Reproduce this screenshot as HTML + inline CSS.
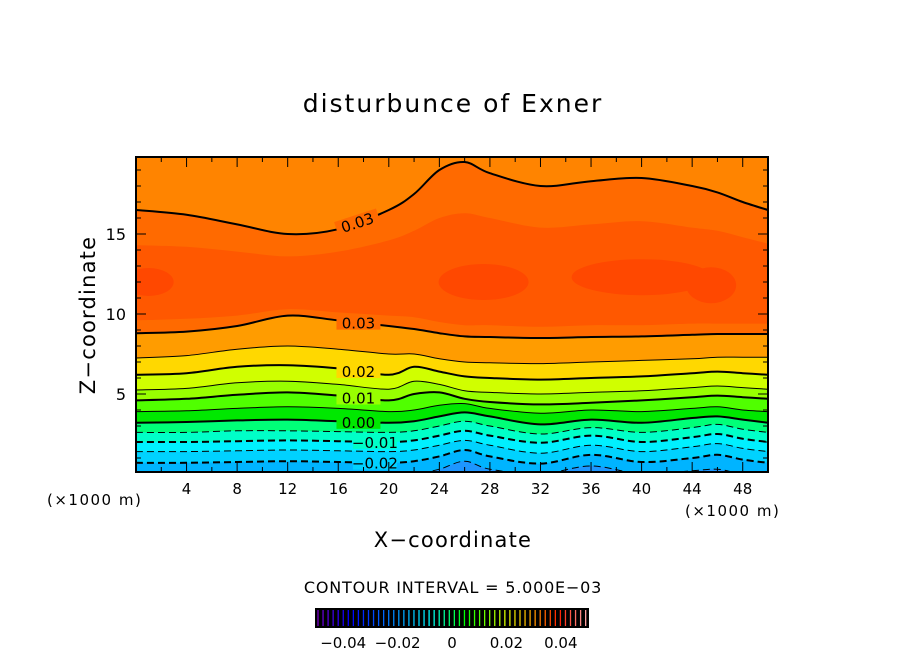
<!DOCTYPE html>
<html><head><meta charset="utf-8"><style>
body{margin:0;background:#fff;}
svg{display:block;font-family:"DejaVu Sans","Liberation Sans",sans-serif;}
</style></head><body>
<svg id="chart" width="904" height="654" viewBox="0 0 904 654">
<text x="453" y="112" text-anchor="middle" font-size="25" letter-spacing="2">disturbunce of Exner</text>
<defs><clipPath id="pc"><rect x="136" y="157" width="632" height="315"/></clipPath></defs>
<g id="plot" clip-path="url(#pc)"></g>
<g id="lines" clip-path="url(#pc)"></g>
<g id="labels"></g>
<rect x="136" y="157" width="632" height="315" fill="none" stroke="#000" stroke-width="2"/>
<g id="axes"></g>
<text x="47" y="505" font-size="15" letter-spacing="1.5">(×1000 m)</text>
<text x="685" y="516" font-size="15" letter-spacing="1.5">(×1000 m)</text>
<text x="453" y="547" text-anchor="middle" font-size="21" letter-spacing="1.2">X−coordinate</text>
<text transform="translate(95,315) rotate(-90)" text-anchor="middle" font-size="21" letter-spacing="1.2">Z−coordinate</text>
<text x="453" y="593" text-anchor="middle" font-size="16" letter-spacing="0.8">CONTOUR INTERVAL = 5.000E−03</text>
<rect x="315" y="608" width="274" height="20" fill="#000"/>
<g id="cbar"></g>
</svg>
<script>
const xs=[0,4,8,12,16,20,22,24,26,28,32,36,40,44,46,48,50];
const levels=[-0.025,-0.02,-0.015,-0.01,-0.005,0,0.005,0.01,0.015,0.02,0.025,0.03];
const profiles=[
[0,0,0,0,0,0,0,0.3,0.8,0.3,0,0.5,0,0.2,0.3,0,0],
[0.7,0.7,0.75,0.8,0.75,0.7,0.8,1.1,1.5,1.1,0.65,1.2,0.75,1.0,1.2,0.9,0.7],
[1.4,1.4,1.45,1.5,1.45,1.4,1.5,1.8,2.1,1.8,1.3,1.8,1.4,1.7,1.9,1.6,1.4],
[2.0,2.0,2.05,2.1,2.05,2.0,2.1,2.4,2.7,2.4,1.95,2.4,2.0,2.3,2.5,2.2,2.0],
[2.6,2.6,2.7,2.7,2.65,2.6,2.7,3.0,3.3,3.0,2.5,2.9,2.6,2.9,3.1,2.8,2.6],
[3.2,3.25,3.35,3.4,3.3,3.2,3.3,3.6,3.85,3.6,3.1,3.4,3.2,3.5,3.6,3.4,3.2],
[3.9,3.95,4.1,4.2,4.1,3.9,4.0,4.3,4.4,4.1,3.8,4.0,3.9,4.1,4.2,4.0,3.9],
[4.6,4.7,4.95,5.1,4.9,4.6,5.0,5.1,4.7,4.5,4.35,4.45,4.6,4.8,4.9,4.8,4.7],
[5.25,5.35,5.7,5.8,5.6,5.3,5.8,5.6,5.2,5.1,5.0,5.1,5.2,5.4,5.5,5.4,5.3],
[6.2,6.3,6.7,6.8,6.6,6.2,6.7,6.4,6.1,6.0,5.9,6.0,6.1,6.3,6.4,6.3,6.2],
[7.25,7.4,7.8,8.0,7.8,7.5,7.5,7.2,7.0,6.95,6.9,7.0,7.1,7.2,7.3,7.3,7.3],
[8.8,8.9,9.25,9.9,9.6,9.25,9.06,8.8,8.6,8.56,8.5,8.56,8.6,8.7,8.75,8.75,8.75]];
const upper030=[16.5,16.2,15.6,15.0,15.3,16.5,17.5,19.0,19.5,18.8,18.0,18.3,18.5,18.0,17.6,17.0,16.5];
const lower035=[9.6,9.7,9.9,10.3,10.1,9.9,9.8,9.5,9.3,9.3,9.2,9.3,9.3,9.4,9.4,9.4,9.4];
const upper035=[14.3,14.2,13.9,13.6,13.9,14.6,15.2,16.0,16.3,16.0,15.4,15.6,15.8,15.4,15.2,14.8,14.4];
const bandColors=["#1e96ff","#00b4ff","#00d2ff","#00f0ff","#00ffc8","#00ff78","#00e800","#50ff00","#98ff00","#d0ff00","#ffd800","#ff9c00"];
const xTicks=[4,8,12,16,20,24,28,32,36,40,44,48];
const zTicks=[5,10,15];
const cbarTicks=[-0.04,-0.02,0,0.02,0.04];
const cbarTickLabels=["−0.04","−0.02","0","0.02","0.04"];
const NS="http://www.w3.org/2000/svg";
const X=v=>136+v*632/50, Z=v=>474-v*16;
function pts(p){return xs.map((x,i)=>[X(x),Z(p[i])]);}
function spline(P){let d=`M${P[0][0]},${P[0][1]}`;for(let i=0;i<P.length-1;i++){const p0=P[Math.max(0,i-1)],p1=P[i],p2=P[i+1],p3=P[Math.min(P.length-1,i+2)];d+=`C${p1[0]+(p2[0]-p0[0])/6},${p1[1]+(p2[1]-p0[1])/6} ${p2[0]-(p3[0]-p1[0])/6},${p2[1]-(p3[1]-p1[1])/6} ${p2[0]},${p2[1]}`;}return d;}
function el(tag,attrs,parent){const e=document.createElementNS(NS,tag);for(const k in attrs)e.setAttribute(k,attrs[k]);parent.appendChild(e);return e;}
const plot=document.getElementById('plot'),lines=document.getElementById('lines'),labels=document.getElementById('labels');
let bg=el('rect',{x:136,y:157,width:632,height:317,fill:bandColors[0]},plot);


function fillAbove(p,color,name){const P=pts(p);const d=spline(P)+`L${X(50)},150L${X(0)},150Z`;const e=el('path',{d:d,fill:color},plot);

}
levels.forEach((lv,i)=>{fillAbove(profiles[i],bandColors[i+1]||"#ff6a00",'band-'+i);});
fillAbove(profiles[11],"#ff6a00",'band-030-035');
fillAbove(lower035,"#ff5800",'band-035-040');
fillAbove(upper035,"#ff6a00",'band-upper-030-035');
fillAbove(upper030,"#ff8400",'band-top');
[[1,12],[27.5,12],[40,12.3],[45.5,11.8]].forEach((c,i)=>{const e=el('ellipse',{cx:X(c[0]),cy:Z(c[1]),rx:i==2?70:i==1?45:25,ry:i==0?14:18,fill:"#ff4800"},plot);

});
function drawLine(p,lv,name){const thick=Math.abs(Math.round(lv*1000))%10===0;const a={d:spline(pts(p)),fill:'none',stroke:'#000','stroke-width':thick?2:1};if(lv<0)a['stroke-dasharray']='7,4';const e=el('path',a,lines);

}
levels.forEach((lv,i)=>drawLine(profiles[i],lv,'contour-'+lv));
drawLine(upper030,0.03,'contour-0.03-upper');
const lab=[[0.03,17.6,profiles[11]],[0.02,17.6,profiles[9]],[0.01,17.6,profiles[7]],[0,17.6,profiles[5]],[-0.01,18.9,profiles[3]],[-0.02,18.9,profiles[1]]];
function interp(p,x){for(let i=0;i<xs.length-1;i++)if(x<=xs[i+1]){const t=(x-xs[i])/(xs[i+1]-xs[i]);return p[i]+t*(p[i+1]-p[i]);}return p[p.length-1];}
function addLabel(txt,x,z,rot,bgc){const g=el('g',{transform:`translate(${X(x)},${Z(z)}) rotate(${rot})`},labels);
el('rect',{x:-22,y:-7,width:44,height:14,fill:bgc},g);
const t=el('text',{x:0,y:6,'text-anchor':'middle','font-size':15},g);t.textContent=txt;

}
const labBg=["#ff6a00","#ffd800","#98ff00","#00e800","#00ffc8","#00d2ff"];
lab.forEach((l,i)=>addLabel(l[0]<0?'−'+Math.abs(l[0]).toFixed(2):l[0].toFixed(2),l[1],interp(l[2],l[1]),0,labBg[i]));
addLabel('0.03',17.5,interp(upper030,17.5),-18,"#ff6a00");
const ax=document.getElementById('axes');
for(let v=2;v<50;v+=2){const major=v%4===0;const e=el('line',{x1:X(v),x2:X(v),y1:472,y2:major?462:467,stroke:'#000'},ax);


const e2=el('line',{x1:X(v),x2:X(v),y1:157,y2:major?167:162,stroke:'#000'},ax);

}
xTicks.forEach(v=>{const t=el('text',{x:X(v),y:494,'text-anchor':'middle','font-size':15},ax);t.textContent=v;

});
for(let v=1;v<20;v++){const major=v%5===0;const e=el('line',{x1:136,x2:major?146:141,y1:Z(v),y2:Z(v),stroke:'#000'},ax);


const e2=el('line',{x1:768,x2:major?758:763,y1:Z(v),y2:Z(v),stroke:'#000'},ax);

}
zTicks.forEach(v=>{const t=el('text',{x:126,y:Z(v)+6,'text-anchor':'end','font-size':16},ax);t.textContent=v;

});
const cb=document.getElementById('cbar');
const CX=v=>452+v*(588-316)/0.1;
function cmap(f){const stops=[[0,[120,0,200]],[0.12,[0,0,255]],[0.3,[0,150,255]],[0.42,[0,255,255]],[0.55,[0,255,0]],[0.7,[220,255,0]],[0.8,[255,160,0]],[0.9,[255,30,0]],[1,[255,160,160]]];for(let i=0;i<stops.length-1;i++)if(f<=stops[i+1][0]){const t=(f-stops[i][0])/(stops[i+1][0]-stops[i][0]);return 'rgb('+stops[i][1].map((c,k)=>Math.round(c+t*(stops[i+1][1][k]-c))).join(',')+')';}return 'rgb(255,160,160)';}
for(let i=0;i<54;i++){const x=318+i*5.05;const e=el('line',{x1:x,x2:x,y1:610,y2:626,stroke:cmap(i/53),'stroke-width':1.3},cb);

}
cbarTicks.forEach((v,i)=>{const t=el('text',{x:CX(v),y:648,'text-anchor':'middle','font-size':15},cb);t.textContent=cbarTickLabels[i];

});
</script>
</body></html>
